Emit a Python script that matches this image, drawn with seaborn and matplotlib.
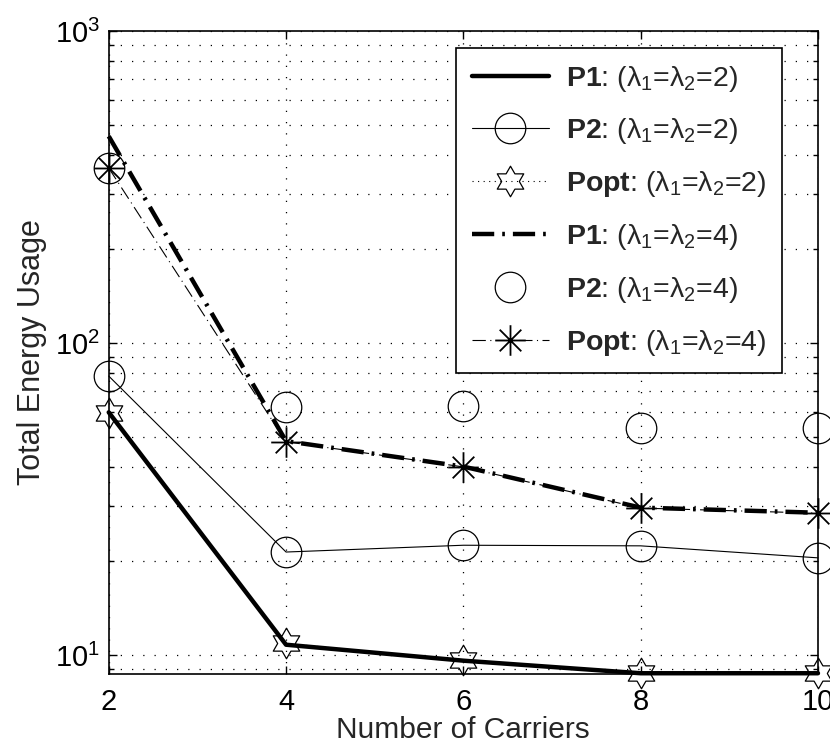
import numpy as np
import matplotlib
matplotlib.use("Agg")
import matplotlib.pyplot as plt
from matplotlib.path import Path
import seaborn as sns

# values (log scale)
carriers = [2, 4, 6, 8, 10]
p1_l2 = [60, 10.8, 9.6, 8.75, 8.75]
p2_l2 = [78.4, 21.4, 22.5, 22.4, 20.5]
popt_l2 = [59.7, 10.9, 9.64, 8.76, 8.76]
p1_l4 = [460, 48.5, 40.2, 29.7, 28.6]
p2_l4 = [364, 62.5, 62.8, 53.4, 53.4]
popt_l4 = [364, 48.3, 40.1, 29.6, 28.5]

labels = [
    r"$\mathbf{P1}$: ($\lambda_1$=$\lambda_2$=2)",
    r"$\mathbf{P2}$: ($\lambda_1$=$\lambda_2$=2)",
    r"$\mathbf{Popt}$: ($\lambda_1$=$\lambda_2$=2)",
    r"$\mathbf{P1}$: ($\lambda_1$=$\lambda_2$=4)",
    r"$\mathbf{P2}$: ($\lambda_1$=$\lambda_2$=4)",
    r"$\mathbf{Popt}$: ($\lambda_1$=$\lambda_2$=4)",
]

sns.set_style("white")
plt.rcParams["font.family"] = ["Liberation Sans", "DejaVu Sans"]
plt.rcParams["mathtext.fontset"] = "custom"
plt.rcParams["mathtext.rm"] = "Liberation Sans"
plt.rcParams["mathtext.bf"] = "Liberation Sans:bold"
plt.rcParams["mathtext.it"] = "Liberation Sans:italic"
plt.rcParams["mathtext.default"] = "regular"

# hexagram (star of david) marker, like matlab 'h'
ang_out = np.deg2rad(90 + 60 * np.arange(6))
ang_in = np.deg2rad(120 + 60 * np.arange(6))
verts = []
for a, b in zip(ang_out, ang_in):
    verts.append((np.cos(a), np.sin(a)))
    verts.append((np.cos(b) / np.sqrt(3), np.sin(b) / np.sqrt(3)))
verts.append(verts[0])
hexagram = Path(verts, closed=True)

# matlab style asterisk: plus + cross
d = np.sqrt(0.5)
asterisk = Path(
    [(0, -1), (0, 1), (-1, 0), (1, 0), (-d, -d), (d, d), (-d, d), (d, -d)],
    [Path.MOVETO, Path.LINETO] * 4,
)

fig, ax = plt.subplots(figsize=(8.3, 7.47), dpi=100)
fig.subplots_adjust(left=0.131, right=0.9855, top=0.9585, bottom=0.0977)

common = dict(color="k", markeredgecolor="k", markerfacecolor="none", clip_on=False, ax=ax)
sns.lineplot(x=carriers, y=p1_l2, lw=3.2, ls="-", label=labels[0], **common)
sns.lineplot(x=carriers, y=p2_l2, lw=0.8, ls="-", marker="o", ms=22,
             markeredgewidth=0.9, label=labels[1], **common)
sns.lineplot(x=carriers, y=popt_l2, lw=0.8, ls=(0, (1, 4)), marker=hexagram, ms=22,
             markeredgewidth=0.9, label=labels[2], **common)
sns.lineplot(x=carriers, y=p1_l4, lw=3.2, ls=(0, (5, 1.8, 0.6, 1.8)), label=labels[3], **common)
sns.lineplot(x=carriers, y=p2_l4, lw=0, marker="o", ms=22,
             markeredgewidth=0.9, label=labels[4], **common)
sns.lineplot(x=carriers, y=popt_l4, lw=0.8, ls=(0, (12, 4, 1, 4)), marker=asterisk, ms=22,
             markeredgewidth=1.3, label=labels[5], **common)

ax.set_yscale("log")
ax.set_xlim(2, 10)
ax.set_ylim(8.7, 1000)
ax.set_xticks(carriers)
ax.set_xlabel("Number of Carriers", fontsize=21.5, labelpad=0)
ax.set_ylabel("Total Energy Usage", fontsize=22, labelpad=6)

ax.grid(True, which="major", axis="both", color="k", lw=0.9, ls=(0, (1, 8)))
ax.grid(True, which="minor", axis="y", color="k", lw=0.9, ls=(0, (1, 8)))
ax.tick_params(which="both", direction="in", top=True, right=True, bottom=True, left=True,
               colors="k", labelsize=21)
ax.tick_params(which="major", length=6, width=1)
ax.tick_params(which="minor", length=3.5, width=1)
ax.tick_params(axis="x", pad=10)
ax.tick_params(axis="y", pad=6)
for s in ax.spines.values():
    s.set_color("k")
    s.set_linewidth(1.2)

leg = ax.legend(loc="upper right", bbox_to_anchor=(0.949, 0.9736), borderaxespad=0,
                fontsize=20.5, frameon=True, fancybox=False, framealpha=1,
                edgecolor="k", handlelength=2.7, handletextpad=0.6,
                labelspacing=0.8, borderpad=0.55, numpoints=1)
leg.get_frame().set_linewidth(1.2)

fig.savefig("out.png", dpi=100)
